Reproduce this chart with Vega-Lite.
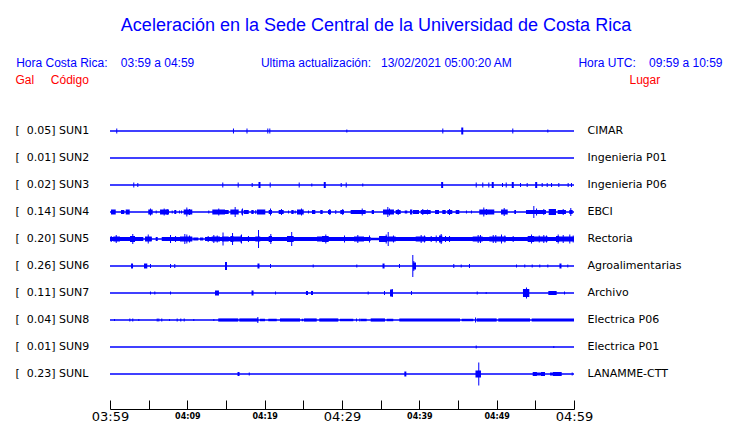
{
  "$schema": "https://vega.github.io/schema/vega-lite/v6.json",
  "width": 464,
  "height": 270,
  "autosize": {"type": "none"},
  "padding": {"left": 110, "top": 117.5, "right": 166, "bottom": 35.5},
  "background": "white",
  "config": {"view": {"stroke": null}},
  "title": {
    "text": "Aceleración en la Sede Central de la Universidad de Costa Rica",
    "subtitle": "Hora Costa Rica:\u00a0\u00a0\u00a0\u00a003:59 a 04:59\u00a0\u00a0\u00a0\u00a0\u00a0\u00a0\u00a0\u00a0\u00a0\u00a0\u00a0\u00a0\u00a0\u00a0\u00a0\u00a0\u00a0\u00a0\u00a0\u00a0Ultima actualización:\u00a0\u00a0\u00a013/02/2021 05:00:20 AM\u00a0\u00a0\u00a0\u00a0\u00a0\u00a0\u00a0\u00a0\u00a0\u00a0\u00a0\u00a0\u00a0\u00a0\u00a0\u00a0\u00a0\u00a0\u00a0\u00a0Hora UTC:\u00a0\u00a0\u00a0\u00a009:59 a 10:59\u00a0\u00a0\u00a0\u00a0\u200b",
    "anchor": "middle",
    "frame": "group",
    "dx": 34,
    "offset": 5,
    "font": "Liberation Sans",
    "fontSize": 18,
    "fontWeight": "normal",
    "color": "#0000ff",
    "subtitleFont": "Liberation Sans",
    "subtitleFontSize": 12,
    "subtitleColor": "#0000ff",
    "subtitlePadding": 23
  },
  "datasets": {
    "stations": [
      {"s": "SUN1", "gal": 0.05, "lugar": "CIMAR"},
      {"s": "SUN2", "gal": 0.01, "lugar": "Ingenieria P01"},
      {"s": "SUN3", "gal": 0.02, "lugar": "Ingenieria P06"},
      {"s": "SUN4", "gal": 0.14, "lugar": "EBCI"},
      {"s": "SUN5", "gal": 0.20, "lugar": "Rectoria"},
      {"s": "SUN6", "gal": 0.26, "lugar": "Agroalimentarias"},
      {"s": "SUN7", "gal": 0.11, "lugar": "Archivo"},
      {"s": "SUN8", "gal": 0.04, "lugar": "Electrica P06"},
      {"s": "SUN9", "gal": 0.01, "lugar": "Electrica P01"},
      {"s": "SUNL", "gal": 0.23, "lugar": "LANAMME-CTT"}
    ],
    "traces": [
      {"s":"SUN1","t0":0.81,"t1":0.94,"a":5},
      {"s":"SUN1","t0":15.90,"t1":16.03,"a":5},
      {"s":"SUN1","t0":17.65,"t1":17.78,"a":5},
      {"s":"SUN1","t0":20.34,"t1":20.47,"a":5},
      {"s":"SUN1","t0":20.60,"t1":20.73,"a":5},
      {"s":"SUN1","t0":30.56,"t1":30.69,"a":3},
      {"s":"SUN1","t0":42.97,"t1":43.10,"a":5},
      {"s":"SUN1","t0":45.42,"t1":45.68,"a":7},
      {"s":"SUN1","t0":52.02,"t1":52.15,"a":5},
      {"s":"SUN1","t0":56.55,"t1":56.68,"a":3},

      {"s":"SUN3","t0":3.01,"t1":3.14,"a":5},
      {"s":"SUN3","t0":3.53,"t1":3.66,"a":4},
      {"s":"SUN3","t0":14.52,"t1":14.65,"a":5},
      {"s":"SUN3","t0":16.51,"t1":16.64,"a":5},
      {"s":"SUN3","t0":18.32,"t1":18.45,"a":4},
      {"s":"SUN3","t0":19.20,"t1":19.46,"a":6},
      {"s":"SUN3","t0":20.65,"t1":20.78,"a":5},
      {"s":"SUN3","t0":24.40,"t1":24.53,"a":5},
      {"s":"SUN3","t0":26.03,"t1":26.16,"a":3},
      {"s":"SUN3","t0":27.64,"t1":27.90,"a":6},
      {"s":"SUN3","t0":29.83,"t1":29.96,"a":4},
      {"s":"SUN3","t0":30.48,"t1":30.61,"a":5},
      {"s":"SUN3","t0":32.62,"t1":32.75,"a":3},
      {"s":"SUN3","t0":42.82,"t1":43.08,"a":6},
      {"s":"SUN3","t0":47.29,"t1":47.42,"a":5},
      {"s":"SUN3","t0":48.14,"t1":48.27,"a":5},
      {"s":"SUN3","t0":48.92,"t1":49.05,"a":5},
      {"s":"SUN3","t0":49.36,"t1":49.62,"a":6},
      {"s":"SUN3","t0":50.69,"t1":50.82,"a":4},
      {"s":"SUN3","t0":51.17,"t1":51.30,"a":5},
      {"s":"SUN3","t0":51.95,"t1":52.21,"a":6},
      {"s":"SUN3","t0":53.02,"t1":53.15,"a":4},
      {"s":"SUN3","t0":53.88,"t1":54.01,"a":4},
      {"s":"SUN3","t0":54.98,"t1":55.24,"a":6},
      {"s":"SUN3","t0":55.82,"t1":55.95,"a":4},
      {"s":"SUN3","t0":56.47,"t1":56.60,"a":4},
      {"s":"SUN3","t0":57.03,"t1":57.16,"a":4},
      {"s":"SUN3","t0":57.97,"t1":58.10,"a":4},
      {"s":"SUN3","t0":59.18,"t1":59.31,"a":4},
      {"s":"SUN3","t0":59.61,"t1":59.74,"a":4},

      {"s":"SUN4","t0":0.13,"t1":0.74,"a":5},
      {"s":"SUN4","t0":1.42,"t1":1.85,"a":4},
      {"s":"SUN4","t0":2.03,"t1":2.55,"a":5},
      {"s":"SUN4","t0":4.95,"t1":5.52,"a":5},
      {"s":"SUN4","t0":5.17,"t1":5.30,"a":7},
      {"s":"SUN4","t0":5.91,"t1":6.04,"a":3},
      {"s":"SUN4","t0":6.47,"t1":7.63,"a":5},
      {"s":"SUN4","t0":6.94,"t1":7.07,"a":7},
      {"s":"SUN4","t0":7.33,"t1":7.46,"a":6},
      {"s":"SUN4","t0":7.98,"t1":8.11,"a":3},
      {"s":"SUN4","t0":8.31,"t1":8.57,"a":4},
      {"s":"SUN4","t0":8.92,"t1":9.05,"a":3},
      {"s":"SUN4","t0":9.18,"t1":9.31,"a":3},
      {"s":"SUN4","t0":9.53,"t1":10.64,"a":5},
      {"s":"SUN4","t0":9.87,"t1":10.00,"a":9},
      {"s":"SUN4","t0":10.22,"t1":10.35,"a":6},
      {"s":"SUN4","t0":12.71,"t1":12.84,"a":3},
      {"s":"SUN4","t0":13.23,"t1":14.87,"a":5},
      {"s":"SUN4","t0":14.00,"t1":14.13,"a":7},
      {"s":"SUN4","t0":14.87,"t1":15.35,"a":4},
      {"s":"SUN4","t0":15.56,"t1":16.64,"a":5},
      {"s":"SUN4","t0":16.12,"t1":16.25,"a":10},
      {"s":"SUN4","t0":16.98,"t1":17.16,"a":5},
      {"s":"SUN4","t0":17.07,"t1":17.20,"a":7},
      {"s":"SUN4","t0":17.29,"t1":17.94,"a":4},
      {"s":"SUN4","t0":18.27,"t1":18.58,"a":4},
      {"s":"SUN4","t0":18.79,"t1":18.92,"a":4},
      {"s":"SUN4","t0":19.01,"t1":20.08,"a":5},
      {"s":"SUN4","t0":20.52,"t1":20.95,"a":4},
      {"s":"SUN4","t0":20.69,"t1":20.82,"a":7},
      {"s":"SUN4","t0":21.81,"t1":22.46,"a":4},
      {"s":"SUN4","t0":22.11,"t1":22.24,"a":6},
      {"s":"SUN4","t0":23.02,"t1":23.15,"a":3},
      {"s":"SUN4","t0":23.44,"t1":23.75,"a":4},
      {"s":"SUN4","t0":23.88,"t1":24.01,"a":3},
      {"s":"SUN4","t0":24.18,"t1":25.05,"a":5},
      {"s":"SUN4","t0":24.70,"t1":24.83,"a":7},
      {"s":"SUN4","t0":25.60,"t1":25.73,"a":3},
      {"s":"SUN4","t0":26.12,"t1":26.55,"a":4},
      {"s":"SUN4","t0":27.19,"t1":27.50,"a":4},
      {"s":"SUN4","t0":28.19,"t1":28.58,"a":4},
      {"s":"SUN4","t0":28.36,"t1":28.49,"a":6},
      {"s":"SUN4","t0":29.13,"t1":29.26,"a":4},
      {"s":"SUN4","t0":29.78,"t1":30.26,"a":4},
      {"s":"SUN4","t0":30.03,"t1":30.16,"a":6},
      {"s":"SUN4","t0":31.12,"t1":33.06,"a":4},
      {"s":"SUN4","t0":32.55,"t1":32.68,"a":7},
      {"s":"SUN4","t0":33.84,"t1":34.14,"a":4},
      {"s":"SUN4","t0":35.30,"t1":36.72,"a":5},
      {"s":"SUN4","t0":35.86,"t1":35.99,"a":10},
      {"s":"SUN4","t0":36.08,"t1":36.21,"a":7},
      {"s":"SUN4","t0":36.94,"t1":37.59,"a":4},
      {"s":"SUN4","t0":37.20,"t1":37.33,"a":6},
      {"s":"SUN4","t0":38.11,"t1":38.44,"a":3},
      {"s":"SUN4","t0":38.79,"t1":39.09,"a":5},
      {"s":"SUN4","t0":39.18,"t1":39.96,"a":4},
      {"s":"SUN4","t0":40.18,"t1":41.47,"a":4},
      {"s":"SUN4","t0":40.38,"t1":40.51,"a":6},
      {"s":"SUN4","t0":40.99,"t1":41.12,"a":5},
      {"s":"SUN4","t0":42.03,"t1":42.54,"a":4},
      {"s":"SUN4","t0":42.97,"t1":43.41,"a":4},
      {"s":"SUN4","t0":43.62,"t1":44.26,"a":4},
      {"s":"SUN4","t0":43.84,"t1":43.97,"a":6},
      {"s":"SUN4","t0":44.70,"t1":45.17,"a":4},
      {"s":"SUN4","t0":46.03,"t1":46.16,"a":3},
      {"s":"SUN4","t0":46.68,"t1":46.81,"a":3},
      {"s":"SUN4","t0":47.75,"t1":49.69,"a":5},
      {"s":"SUN4","t0":48.27,"t1":48.40,"a":9},
      {"s":"SUN4","t0":48.62,"t1":48.75,"a":6},
      {"s":"SUN4","t0":50.56,"t1":51.43,"a":5},
      {"s":"SUN4","t0":50.91,"t1":51.04,"a":8},
      {"s":"SUN4","t0":52.28,"t1":52.50,"a":4},
      {"s":"SUN4","t0":53.79,"t1":56.38,"a":4},
      {"s":"SUN4","t0":54.74,"t1":54.87,"a":12},
      {"s":"SUN4","t0":55.09,"t1":55.22,"a":7},
      {"s":"SUN4","t0":56.03,"t1":56.16,"a":6},
      {"s":"SUN4","t0":56.73,"t1":57.67,"a":6},
      {"s":"SUN4","t0":57.89,"t1":58.96,"a":4},
      {"s":"SUN4","t0":58.54,"t1":58.67,"a":6},
      {"s":"SUN4","t0":59.39,"t1":59.83,"a":4},
      {"s":"SUN4","t0":59.52,"t1":59.65,"a":8},

      {"s":"SUN5","t0":0.00,"t1":4.31,"a":4},
      {"s":"SUN5","t0":4.53,"t1":5.39,"a":4},
      {"s":"SUN5","t0":5.91,"t1":6.17,"a":4},
      {"s":"SUN5","t0":6.69,"t1":10.64,"a":4},
      {"s":"SUN5","t0":10.77,"t1":11.42,"a":3},
      {"s":"SUN5","t0":11.64,"t1":12.06,"a":3},
      {"s":"SUN5","t0":12.28,"t1":33.71,"a":4},
      {"s":"SUN5","t0":33.71,"t1":34.79,"a":2.5},
      {"s":"SUN5","t0":34.79,"t1":60.00,"a":4},
      {"s":"SUN5","t0":0.09,"t1":0.22,"a":6},
      {"s":"SUN5","t0":0.43,"t1":1.29,"a":5},
      {"s":"SUN5","t0":0.74,"t1":0.87,"a":8},
      {"s":"SUN5","t0":2.59,"t1":3.23,"a":6},
      {"s":"SUN5","t0":2.88,"t1":3.01,"a":10},
      {"s":"SUN5","t0":4.53,"t1":5.39,"a":5},
      {"s":"SUN5","t0":4.88,"t1":5.01,"a":9},
      {"s":"SUN5","t0":7.76,"t1":7.89,"a":8},
      {"s":"SUN5","t0":8.41,"t1":8.54,"a":6},
      {"s":"SUN5","t0":9.05,"t1":10.64,"a":5},
      {"s":"SUN5","t0":9.61,"t1":9.74,"a":10},
      {"s":"SUN5","t0":9.87,"t1":10.00,"a":9},
      {"s":"SUN5","t0":10.22,"t1":10.35,"a":7},
      {"s":"SUN5","t0":12.63,"t1":12.76,"a":6},
      {"s":"SUN5","t0":13.15,"t1":14.22,"a":5},
      {"s":"SUN5","t0":13.36,"t1":13.49,"a":8},
      {"s":"SUN5","t0":13.80,"t1":13.93,"a":7},
      {"s":"SUN5","t0":14.48,"t1":15.35,"a":5},
      {"s":"SUN5","t0":14.55,"t1":14.68,"a":13},
      {"s":"SUN5","t0":15.56,"t1":15.99,"a":6},
      {"s":"SUN5","t0":15.78,"t1":15.91,"a":12},
      {"s":"SUN5","t0":15.99,"t1":16.85,"a":5},
      {"s":"SUN5","t0":16.85,"t1":17.07,"a":7},
      {"s":"SUN5","t0":16.94,"t1":17.07,"a":9},
      {"s":"SUN5","t0":17.84,"t1":17.97,"a":6},
      {"s":"SUN5","t0":18.79,"t1":19.43,"a":5},
      {"s":"SUN5","t0":19.14,"t1":19.27,"a":18},
      {"s":"SUN5","t0":20.52,"t1":20.95,"a":6},
      {"s":"SUN5","t0":20.73,"t1":20.86,"a":10},
      {"s":"SUN5","t0":22.89,"t1":23.75,"a":6},
      {"s":"SUN5","t0":23.43,"t1":23.56,"a":14},
      {"s":"SUN5","t0":26.77,"t1":27.41,"a":5},
      {"s":"SUN5","t0":27.41,"t1":28.28,"a":6},
      {"s":"SUN5","t0":27.84,"t1":27.97,"a":9},
      {"s":"SUN5","t0":30.26,"t1":30.39,"a":7},
      {"s":"SUN5","t0":31.55,"t1":32.84,"a":5},
      {"s":"SUN5","t0":31.98,"t1":32.11,"a":8},
      {"s":"SUN5","t0":33.49,"t1":33.62,"a":7},
      {"s":"SUN5","t0":34.79,"t1":35.86,"a":6},
      {"s":"SUN5","t0":35.65,"t1":35.78,"a":9},
      {"s":"SUN5","t0":35.91,"t1":36.04,"a":14},
      {"s":"SUN5","t0":35.99,"t1":36.94,"a":5},
      {"s":"SUN5","t0":36.59,"t1":36.72,"a":7},
      {"s":"SUN5","t0":39.53,"t1":40.82,"a":5},
      {"s":"SUN5","t0":40.17,"t1":40.30,"a":8},
      {"s":"SUN5","t0":40.60,"t1":40.73,"a":7},
      {"s":"SUN5","t0":41.47,"t1":41.60,"a":6},
      {"s":"SUN5","t0":42.12,"t1":42.25,"a":7},
      {"s":"SUN5","t0":42.54,"t1":42.97,"a":7},
      {"s":"SUN5","t0":42.76,"t1":42.89,"a":10},
      {"s":"SUN5","t0":43.32,"t1":43.45,"a":6},
      {"s":"SUN5","t0":43.84,"t1":43.97,"a":6},
      {"s":"SUN5","t0":46.90,"t1":48.19,"a":5},
      {"s":"SUN5","t0":47.54,"t1":47.67,"a":8},
      {"s":"SUN5","t0":47.84,"t1":47.97,"a":8},
      {"s":"SUN5","t0":49.05,"t1":51.21,"a":5},
      {"s":"SUN5","t0":49.49,"t1":49.62,"a":8},
      {"s":"SUN5","t0":49.82,"t1":49.95,"a":8},
      {"s":"SUN5","t0":50.56,"t1":50.69,"a":9},
      {"s":"SUN5","t0":50.99,"t1":51.12,"a":7},
      {"s":"SUN5","t0":52.07,"t1":52.20,"a":6},
      {"s":"SUN5","t0":54.01,"t1":54.87,"a":6},
      {"s":"SUN5","t0":54.44,"t1":54.57,"a":9},
      {"s":"SUN5","t0":54.87,"t1":56.60,"a":5},
      {"s":"SUN5","t0":55.44,"t1":55.57,"a":7},
      {"s":"SUN5","t0":56.03,"t1":56.16,"a":8},
      {"s":"SUN5","t0":56.38,"t1":56.51,"a":7},
      {"s":"SUN5","t0":57.67,"t1":58.10,"a":6},
      {"s":"SUN5","t0":57.89,"t1":58.02,"a":9},
      {"s":"SUN5","t0":58.10,"t1":60.00,"a":5},
      {"s":"SUN5","t0":58.54,"t1":58.67,"a":8},
      {"s":"SUN5","t0":59.39,"t1":59.52,"a":9},
      {"s":"SUN5","t0":59.83,"t1":59.96,"a":7},

      {"s":"SUN6","t0":2.72,"t1":2.98,"a":5},
      {"s":"SUN6","t0":4.40,"t1":4.82,"a":5},
      {"s":"SUN6","t0":5.17,"t1":5.30,"a":4},
      {"s":"SUN6","t0":7.76,"t1":7.89,"a":4},
      {"s":"SUN6","t0":8.31,"t1":8.44,"a":4},
      {"s":"SUN6","t0":14.87,"t1":15.13,"a":8},
      {"s":"SUN6","t0":19.07,"t1":19.33,"a":5},
      {"s":"SUN6","t0":20.69,"t1":20.82,"a":4},
      {"s":"SUN6","t0":26.21,"t1":26.34,"a":3},
      {"s":"SUN6","t0":31.85,"t1":31.98,"a":3},
      {"s":"SUN6","t0":35.24,"t1":35.50,"a":5},
      {"s":"SUN6","t0":37.37,"t1":37.50,"a":4},
      {"s":"SUN6","t0":39.09,"t1":39.22,"a":22},
      {"s":"SUN6","t0":39.18,"t1":39.57,"a":7},
      {"s":"SUN6","t0":39.22,"t1":39.35,"a":10},
      {"s":"SUN6","t0":44.39,"t1":44.52,"a":4},
      {"s":"SUN6","t0":45.35,"t1":45.48,"a":3},
      {"s":"SUN6","t0":46.42,"t1":46.55,"a":4},
      {"s":"SUN6","t0":52.50,"t1":52.63,"a":3},
      {"s":"SUN6","t0":53.57,"t1":53.70,"a":3},
      {"s":"SUN6","t0":54.53,"t1":54.66,"a":3},
      {"s":"SUN6","t0":55.51,"t1":55.64,"a":3},
      {"s":"SUN6","t0":56.55,"t1":56.68,"a":3},
      {"s":"SUN6","t0":58.12,"t1":58.38,"a":5},
      {"s":"SUN6","t0":59.13,"t1":59.26,"a":3},

      {"s":"SUN7","t0":5.17,"t1":5.30,"a":3},
      {"s":"SUN7","t0":5.73,"t1":5.86,"a":3},
      {"s":"SUN7","t0":7.76,"t1":7.89,"a":3},
      {"s":"SUN7","t0":13.58,"t1":14.09,"a":5},
      {"s":"SUN7","t0":18.30,"t1":18.56,"a":5},
      {"s":"SUN7","t0":21.34,"t1":21.47,"a":3},
      {"s":"SUN7","t0":25.34,"t1":25.60,"a":4},
      {"s":"SUN7","t0":25.99,"t1":26.25,"a":4},
      {"s":"SUN7","t0":33.32,"t1":33.45,"a":3},
      {"s":"SUN7","t0":35.43,"t1":35.56,"a":4},
      {"s":"SUN7","t0":36.21,"t1":36.59,"a":7},
      {"s":"SUN7","t0":36.43,"t1":36.56,"a":8},
      {"s":"SUN7","t0":38.92,"t1":39.05,"a":4},
      {"s":"SUN7","t0":47.42,"t1":47.55,"a":3},
      {"s":"SUN7","t0":48.58,"t1":48.71,"a":2},
      {"s":"SUN7","t0":53.40,"t1":54.22,"a":8},
      {"s":"SUN7","t0":53.79,"t1":53.92,"a":11},
      {"s":"SUN7","t0":56.68,"t1":57.76,"a":4},
      {"s":"SUN7","t0":58.71,"t1":58.84,"a":3},

      {"s":"SUN8","t0":0.52,"t1":0.65,"a":2},
      {"s":"SUN8","t0":2.50,"t1":2.63,"a":3},
      {"s":"SUN8","t0":2.88,"t1":3.01,"a":3},
      {"s":"SUN8","t0":3.66,"t1":3.79,"a":2},
      {"s":"SUN8","t0":6.04,"t1":6.17,"a":3},
      {"s":"SUN8","t0":6.25,"t1":6.38,"a":3},
      {"s":"SUN8","t0":6.63,"t1":6.76,"a":3},
      {"s":"SUN8","t0":7.63,"t1":7.76,"a":2},
      {"s":"SUN8","t0":8.62,"t1":8.75,"a":3},
      {"s":"SUN8","t0":9.09,"t1":9.22,"a":3},
      {"s":"SUN8","t0":9.53,"t1":9.66,"a":3},
      {"s":"SUN8","t0":10.77,"t1":10.90,"a":2},
      {"s":"SUN8","t0":13.36,"t1":13.49,"a":2},
      {"s":"SUN8","t0":14.00,"t1":16.59,"a":3.2},
      {"s":"SUN8","t0":16.72,"t1":19.18,"a":3.2},
      {"s":"SUN8","t0":19.05,"t1":19.18,"a":6},
      {"s":"SUN8","t0":19.40,"t1":20.04,"a":2.5},
      {"s":"SUN8","t0":20.47,"t1":21.56,"a":2.5},
      {"s":"SUN8","t0":21.98,"t1":24.57,"a":3.2},
      {"s":"SUN8","t0":24.79,"t1":25.00,"a":2.5},
      {"s":"SUN8","t0":25.09,"t1":26.73,"a":3.2},
      {"s":"SUN8","t0":27.06,"t1":29.52,"a":3.2},
      {"s":"SUN8","t0":29.74,"t1":31.46,"a":2.5},
      {"s":"SUN8","t0":31.81,"t1":31.94,"a":3},
      {"s":"SUN8","t0":32.24,"t1":32.37,"a":3},
      {"s":"SUN8","t0":32.42,"t1":33.19,"a":2.5},
      {"s":"SUN8","t0":33.71,"t1":35.56,"a":3.2},
      {"s":"SUN8","t0":35.78,"t1":36.63,"a":2.5},
      {"s":"SUN8","t0":37.41,"t1":45.26,"a":3.2},
      {"s":"SUN8","t0":45.48,"t1":46.98,"a":2.5},
      {"s":"SUN8","t0":47.20,"t1":47.33,"a":5},
      {"s":"SUN8","t0":47.42,"t1":50.00,"a":3.2},
      {"s":"SUN8","t0":50.21,"t1":54.31,"a":3.2},
      {"s":"SUN8","t0":54.53,"t1":60.00,"a":3.2},

      {"s":"SUN9","t0":47.29,"t1":47.42,"a":3},
      {"s":"SUN9","t0":57.32,"t1":57.45,"a":2},

      {"s":"SUNL","t0":16.49,"t1":16.75,"a":4},
      {"s":"SUNL","t0":17.94,"t1":18.07,"a":3},
      {"s":"SUNL","t0":38.06,"t1":38.32,"a":5},
      {"s":"SUNL","t0":47.26,"t1":47.97,"a":7},
      {"s":"SUNL","t0":47.62,"t1":47.75,"a":23},
      {"s":"SUNL","t0":54.66,"t1":55.21,"a":4},
      {"s":"SUNL","t0":55.21,"t1":55.73,"a":3},
      {"s":"SUNL","t0":55.73,"t1":56.25,"a":4},
      {"s":"SUNL","t0":56.90,"t1":57.28,"a":3},
      {"s":"SUNL","t0":57.28,"t1":57.67,"a":4},
      {"s":"SUNL","t0":57.67,"t1":58.41,"a":4},
      {"s":"SUNL","t0":59.70,"t1":59.83,"a":3}
    ]
  },
  "layer": [
    {
      "data": {"name": "stations"},
      "mark": {"type": "rule", "color": "#0000ff", "strokeWidth": 1.3},
      "encoding": {
        "y": {
          "field": "s",
          "type": "nominal",
          "scale": {"type": "band", "domain": ["SUN1","SUN2","SUN3","SUN4","SUN5","SUN6","SUN7","SUN8","SUN9","SUNL"], "paddingInner": 0, "paddingOuter": 0},
          "axis": {
            "orient": "left",
            "domain": false,
            "ticks": false,
            "tickSize": 0,
            "labelAlign": "left",
            "labelBaseline": "middle",
            "labelPadding": 95,
            "labelFont": "DejaVu Sans",
            "labelFontSize": 11,
            "labelColor": "black",
            "labelExpr": "{'SUN1':'[\u00a0\u00a00.05]\u00a0SUN1','SUN2':'[\u00a0\u00a00.01]\u00a0SUN2','SUN3':'[\u00a0\u00a00.02]\u00a0SUN3','SUN4':'[\u00a0\u00a00.14]\u00a0SUN4','SUN5':'[\u00a0\u00a00.20]\u00a0SUN5','SUN6':'[\u00a0\u00a00.26]\u00a0SUN6','SUN7':'[\u00a0\u00a00.11]\u00a0SUN7','SUN8':'[\u00a0\u00a00.04]\u00a0SUN8','SUN9':'[\u00a0\u00a00.01]\u00a0SUN9','SUNL':'[\u00a0\u00a00.23]\u00a0SUNL'}[datum.value]",
            "title": "Gal\u00a0\u00a0\u00a0\u00a0\u00a0Código",
            "titleAngle": 0,
            "titleAlign": "left",
            "titleBaseline": "alphabetic",
            "titleX": -95,
            "titleY": -34,
            "titleFont": "Liberation Sans",
            "titleFontSize": 12,
            "titleFontWeight": "normal",
            "titleColor": "#ff0000",
            "grid": false
          }
        }
      }
    },
    {
      "data": {"name": "traces"},
      "mark": {"type": "bar", "color": "#0000ff", "cornerRadius": 0},
      "encoding": {
        "x": {
          "field": "t0",
          "type": "quantitative",
          "scale": {"domain": [0, 60], "nice": false, "zero": false},
          "axis": {
            "orient": "bottom",
            "offset": 21.5,
            "values": [0,5,10,15,20,25,30,35,40,45,50,55,60],
            "tickSize": -9,
            "tickColor": "black",
            "tickWidth": 1,
            "domainColor": "black",
            "domainWidth": 1,
            "grid": false,
            "title": null,
            "labelFlush": false,
            "labelOverlap": false,
            "labelBaseline": "middle",
            "labelPadding": 16,
            "labelColor": "black",
            "labelFont": "DejaVu Sans",
            "labelFontSize": {"condition": {"test": "datum.value % 30 == 0", "value": 13}, "value": 8},
            "labelFontWeight": {"condition": {"test": "datum.value % 30 == 0", "value": "normal"}, "value": "bold"},
            "labelExpr": "datum.value % 10 == 0 ? ('0' + floor((239 + datum.value) / 60) + ':' + (((239 + datum.value) % 60) < 10 ? '0' : '') + ((239 + datum.value) % 60)) : ''"
          }
        },
        "x2": {"field": "t1"},
        "y": {
          "field": "s",
          "type": "nominal",
          "scale": {"type": "band", "domain": ["SUN1","SUN2","SUN3","SUN4","SUN5","SUN6","SUN7","SUN8","SUN9","SUNL"], "paddingInner": 0, "paddingOuter": 0},
          "axis": {
            "orient": "right",
            "domain": false,
            "ticks": false,
            "tickSize": 0,
            "labelAlign": "left",
            "labelBaseline": "middle",
            "labelPadding": 13,
            "labelFont": "DejaVu Sans",
            "labelFontSize": 11,
            "labelColor": "black",
            "labelExpr": "{'SUN1':'CIMAR','SUN2':'Ingenieria P01','SUN3':'Ingenieria P06','SUN4':'EBCI','SUN5':'Rectoria','SUN6':'Agroalimentarias','SUN7':'Archivo','SUN8':'Electrica P06','SUN9':'Electrica P01','SUNL':'LANAMME-CTT'}[datum.value]",
            "title": "Lugar",
            "titleAngle": 0,
            "titleAlign": "left",
            "titleBaseline": "alphabetic",
            "titleX": 55,
            "titleY": -34,
            "titleFont": "Liberation Sans",
            "titleFontSize": 12,
            "titleFontWeight": "normal",
            "titleColor": "#ff0000",
            "grid": false
          }
        },
        "size": {
          "field": "a",
          "type": "quantitative",
          "scale": {"type": "linear", "domain": [0, 24], "range": [0, 24], "zero": true},
          "legend": null
        }
      }
    }
  ],
  "resolve": {"axis": {"y": "independent"}}
}
